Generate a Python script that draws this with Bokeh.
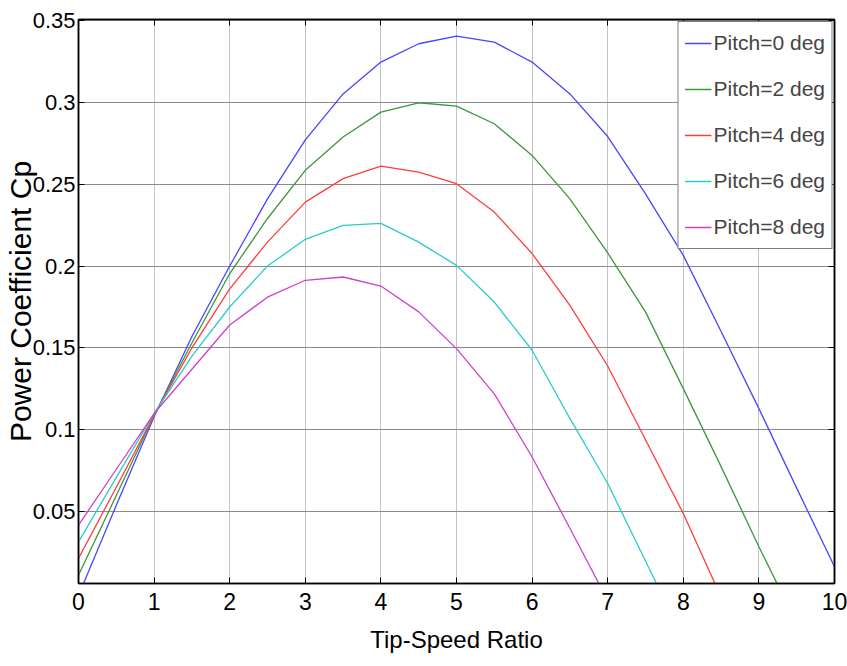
from bokeh.plotting import figure
from bokeh.models import (Range1d, LinearAxis, FixedTicker, Legend, LegendItem,
                          CustomLabelingPolicy)
from bokeh.embed import file_html
from bokeh.resources import INLINE

# ---- data ----
tsr = [0, 0.5, 1, 1.5, 2, 2.5, 3, 3.5, 4, 4.5, 5, 5.5, 6, 6.5, 7, 7.5, 8, 8.5, 9, 9.5, 10]

cp_pitch0 = [-0.001, 0.054, 0.108, 0.157, 0.200, 0.241, 0.277, 0.305, 0.3244, 0.3356, 0.3403,
             0.3366, 0.3244, 0.305, 0.279, 0.244, 0.2065, 0.160, 0.113, 0.0645, 0.0165]
cp_pitch2 = [0.0114, 0.060, 0.109, 0.153, 0.1954, 0.229, 0.2584, 0.2787, 0.2939, 0.2996, 0.2976,
             0.2868, 0.2675, 0.241, 0.208, 0.172, 0.1252, 0.0776, 0.0287, -0.018]
cp_pitch4 = [0.0216, 0.065, 0.109, 0.150, 0.186, 0.2146, 0.239, 0.2533, 0.261, 0.2573, 0.2502,
             0.2329, 0.2076, 0.176, 0.139, 0.094, 0.049, -0.002]
cp_pitch6 = [0.0317, 0.071, 0.110, 0.145, 0.175, 0.200, 0.2163, 0.2248, 0.2260, 0.2146, 0.2004,
             0.178, 0.1486, 0.107, 0.0673, 0.020, -0.027]
cp_pitch8 = [0.0419, 0.076, 0.110, 0.137, 0.164, 0.181, 0.1913, 0.1933, 0.1878, 0.172, 0.1496,
             0.122, 0.0835, 0.040, -0.004]

series_labels = ["Pitch=0 deg", "Pitch=2 deg", "Pitch=4 deg", "Pitch=6 deg", "Pitch=8 deg"]
series_values = [cp_pitch0, cp_pitch2, cp_pitch4, cp_pitch6, cp_pitch8]
series_colors = ["#4646ff", "#3c963c", "#ff3c3c", "#2ccaca", "#cf3fcf"]

x_ticks = [0, 1, 2, 3, 4, 5, 6, 7, 8, 9, 10]
y_ticks = [0.05, 0.1, 0.15, 0.2, 0.25, 0.3, 0.35]
y_tick_labels = {0.05: "0.05", 0.1: "0.1", 0.15: "0.15", 0.2: "0.2", 0.25: "0.25", 0.3: "0.3", 0.35: "0.35"}

FONT = "Liberation Sans"

p = figure(width=847, height=666, output_backend="svg", toolbar_location=None,
           x_range=Range1d(0, 10), y_range=Range1d(0.0063, 0.3504),
           min_border_left=78, min_border_right=13, min_border_top=19, min_border_bottom=83)
p.background_fill_color = "white"
p.border_fill_color = "white"
p.outline_line_color = "black"
p.outline_line_width = 1.5

renderers = []
for lab, vals, col in zip(series_labels, series_values, series_colors):
    r = p.line(tsr[:len(vals)], vals, line_color=col, line_width=1.3)
    renderers.append((lab, r))

# axes styling
for ax in p.xaxis + p.yaxis:
    ax.major_tick_in = 6
    ax.major_tick_out = 0
    ax.minor_tick_in = 0
    ax.minor_tick_out = 0
    ax.axis_line_color = "black"
    ax.axis_line_width = 1.5
    ax.major_tick_line_color = "black"
    ax.major_label_text_font = FONT
    ax.major_label_text_color = "black"

p.xaxis.major_label_text_font_size = "23px"
p.yaxis.major_label_text_font_size = "22px"
p.xaxis.ticker = FixedTicker(ticks=x_ticks)
p.yaxis.ticker = FixedTicker(ticks=y_ticks)
p.yaxis.major_label_overrides = y_tick_labels
p.xaxis.major_label_standoff = 9
p.yaxis.major_label_standoff = 3

p.xaxis.axis_label = "Tip-Speed Ratio"
p.xaxis.axis_label_text_font = FONT
p.xaxis.axis_label_text_font_size = "24px"
p.xaxis.axis_label_text_font_style = "normal"
p.xaxis.axis_label_text_color = "black"
p.xaxis.axis_label_standoff = 13

p.yaxis.axis_label = "Power Coefficient Cp"
p.yaxis.axis_label_text_font = FONT
p.yaxis.axis_label_text_font_size = "30px"
p.yaxis.axis_label_text_font_style = "normal"
p.yaxis.axis_label_text_color = "black"
p.yaxis.axis_label_standoff = -7

# top and right axes: inward ticks only, no labels drawn
top = LinearAxis(ticker=FixedTicker(ticks=x_ticks),
                 major_label_policy=CustomLabelingPolicy(code="return []"),
                 major_label_text_font_size="0px",
                 major_tick_in=6, major_tick_out=0, minor_tick_in=0, minor_tick_out=0,
                 major_label_standoff=0, axis_line_color="black", axis_line_width=1.5)
right = LinearAxis(ticker=FixedTicker(ticks=y_ticks),
                   major_label_policy=CustomLabelingPolicy(code="return []"),
                   major_label_text_font_size="0px",
                   major_tick_in=6, major_tick_out=0, minor_tick_in=0, minor_tick_out=0,
                   major_label_standoff=0, axis_line_color="black", axis_line_width=1.5)
p.add_layout(top, "above")
p.add_layout(right, "right")

# grid
p.xgrid.ticker = FixedTicker(ticks=x_ticks)
p.ygrid.ticker = FixedTicker(ticks=y_ticks)
p.xgrid.grid_line_color = "#c4c4c4"
p.ygrid.grid_line_color = "#8a8a8a"
p.xgrid.grid_line_width = 1
p.ygrid.grid_line_width = 1

legend = Legend(items=[LegendItem(label=lab, renderers=[r]) for lab, r in renderers],
                location="top_right")
legend.border_line_color = "black"
legend.border_line_width = 1.2
legend.background_fill_color = "white"
legend.background_fill_alpha = 1
legend.label_text_font = FONT
legend.label_text_font_size = "21px"
legend.glyph_width = 27
legend.glyph_height = 30
legend.label_height = 30
legend.label_standoff = 2
legend.spacing = 16
legend.padding = 6
legend.margin = 2
p.add_layout(legend, "center")

html = file_html(p, INLINE)
open("out.html", "w").write(html)
